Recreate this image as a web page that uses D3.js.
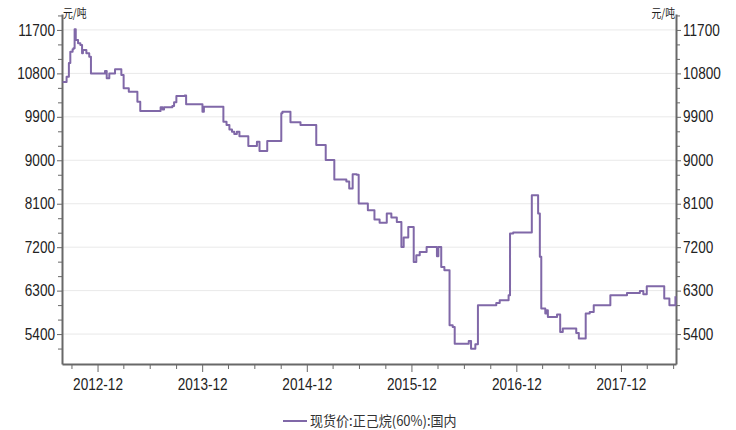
<!DOCTYPE html>
<html>
<head>
<meta charset="utf-8">
<script src="https://cdn.jsdelivr.net/npm/d3@7"></script>
<style>
  body { margin: 0; background: #fff; }
  svg { display: block; }
  .axis text { font-family: "Liberation Sans", Arial, sans-serif; font-size: 16px; fill: #222; }
  .axis path, .axis line { stroke: #686868; }
</style>
</head>
<body>
<svg id="chart" width="736" height="430"></svg>
<script>
// 现货价:正己烷(60%):国内, 元/吨
const dates = [
  "2012-08-01","2012-08-15","2012-08-23","2012-08-28","2012-09-05","2012-09-08","2012-09-12","2012-09-16",
  "2012-09-24","2012-10-02","2012-10-08","2012-10-11","2012-10-23","2012-11-02","2012-11-08","2012-12-24",
  "2012-12-27","2013-01-02","2013-01-11","2013-01-28","2013-01-31","2013-02-15","2013-02-22","2013-03-02",
  "2013-03-20","2013-04-19","2013-04-29","2013-07-05","2013-07-09","2013-07-16","2013-07-21","2013-08-19",
  "2013-08-25","2013-09-02","2013-10-01","2013-10-06","2013-11-29","2013-12-02","2013-12-07","2014-02-10",
  "2014-02-13","2014-02-24","2014-03-06","2014-03-15","2014-03-23","2014-04-01","2014-04-10","2014-05-09",
  "2014-05-11","2014-06-08","2014-06-10","2014-06-16","2014-06-19","2014-07-14","2014-07-16","2014-08-22",
  "2014-09-03","2014-09-07","2014-10-02","2014-10-05","2014-11-06","2014-11-09","2015-01-01","2015-01-03",
  "2015-02-02","2015-02-05","2015-02-25","2015-03-07","2015-04-11","2015-04-18","2015-04-28","2015-05-10",
  "2015-05-24","2015-05-31","2015-07-02","2015-07-25","2015-08-12","2015-09-01","2015-09-06","2015-09-22",
  "2015-10-11","2015-10-27","2015-11-04","2015-11-20","2015-11-25","2015-12-09","2015-12-18","2015-12-30",
  "2016-01-23","2016-02-22","2016-02-28","2016-03-04","2016-03-14","2016-03-25","2016-04-12","2016-04-23",
  "2016-04-30","2016-06-09","2016-06-18","2016-06-26","2016-07-11","2016-07-20","2016-09-17","2016-09-22",
  "2016-10-04","2016-10-30","2016-11-04","2016-11-09","2016-11-20","2017-01-15","2017-01-24","2017-02-08",
  "2017-02-15","2017-02-21","2017-02-26","2017-03-12","2017-03-17","2017-03-21","2017-04-19","2017-04-22",
  "2017-05-03","2017-05-12","2017-06-16","2017-06-28","2017-07-07","2017-07-21","2017-07-31","2017-08-14",
  "2017-08-28","2017-10-23","2017-10-25","2017-12-08","2017-12-22","2018-01-30","2018-02-05","2018-02-17",
  "2018-03-01","2018-04-26","2018-05-01","2018-05-19","2018-05-31","2018-06-09"
];
const prices = [
  10620,10730,11015,11250,11300,11320,11715,11490,
  11424,11390,11216,11285,11216,11147,10800,10800,
  10850,10700,10800,10800,10885,10885,10767,10490,
  10420,10213,10020,10020,10097,10050,10100,10124,
  10200,10331,10340,10160,10159,10006,10110,10110,
  9800,9730,9640,9590,9543,9590,9500,9500,
  9294,9294,9383,9383,9190,9190,9398,9398,
  9972,10006,10006,9787,9787,9730,9730,9315,
  9315,9004,9004,8604,8604,8560,8417,8713,
  8700,8105,7967,7774,7704,7704,7898,7815,
  7724,7206,7400,7620,7620,6895,7034,7102,
  7206,7206,7013,7206,6790,6722,5582,5547,
  5202,5202,5256,5098,5187,5997,5997,6044,
  6100,6100,6204,7484,7504,7504,8278,8278,
  7900,7000,5928,5824,5893,5754,5754,5804,
  5443,5513,5513,5422,5306,5306,5824,5858,
  5997,5997,6204,6204,6252,6252,6293,6225,
  6390,6390,6135,5997,5997,6183
];
const yMajor = [5400, 6300, 7200, 8100, 9000, 9900, 10800, 11700];
const yMinor = [5100, 5700, 6000, 6600, 6900, 7500, 7800, 8400, 8700, 9300, 9600, 10200, 10500, 11100, 11400, 12000];
const xMajor = ["2012-12", "2013-12", "2014-12", "2015-12", "2016-12", "2017-12"];
const xMinor = ["2012-09", "2013-03", "2013-06", "2013-09", "2014-03", "2014-06", "2014-09",
  "2015-03", "2015-06", "2015-09", "2016-03", "2016-06", "2016-09",
  "2017-03", "2017-06", "2017-09", "2018-03", "2018-06"];
const unitLabel = "元/吨";
const seriesName = "现货价:正己烷(60%):国内";

const parseDay = d3.timeParse("%Y-%m-%d");
const parseMonth = d3.timeParse("%Y-%m");
const fmtMonth = d3.timeFormat("%Y-%m");
const data = dates.map((d, i) => ({ date: parseDay(d), value: prices[i] }));

const svg = d3.select("#chart");
const plotL = 62, plotR = 676, plotT = 14, plotB = 364;

// squeeze text horizontally, the source uses a narrow face
function condense(sel, k) {
  sel.each(function() {
    const w = this.getComputedTextLength();
    d3.select(this).attr("textLength", w * k).attr("lengthAdjust", "spacingAndGlyphs");
  });
}

const x = d3.scaleTime()
  .domain([parseDay("2012-07-30"), parseDay("2018-06-11")])
  .range([plotL, plotR]);
const y = d3.scaleLinear().domain([4780, 12030]).range([plotB, plotT]);

// gridlines
svg.append("g").selectAll("line")
  .data(yMajor)
  .join("line")
  .attr("x1", plotL).attr("x2", plotR)
  .attr("y1", d => y(d)).attr("y2", d => y(d))
  .attr("stroke", "#e9e9e9").attr("stroke-width", 1);

// minor ticks
const minorG = svg.append("g").attr("stroke", "#686868");
minorG.selectAll(".ml").data(yMinor).join("line")
  .attr("x1", plotL - 4).attr("x2", plotL).attr("y1", d => y(d) + 0.5).attr("y2", d => y(d) + 0.5);
minorG.selectAll(".mr").data(yMinor).join("line")
  .attr("x1", plotR).attr("x2", plotR + 4).attr("y1", d => y(d) + 0.5).attr("y2", d => y(d) + 0.5);
minorG.selectAll(".mb").data(xMinor).join("line")
  .attr("x1", d => x(parseMonth(d)) + 0.5).attr("x2", d => x(parseMonth(d)) + 0.5)
  .attr("y1", plotB).attr("y2", plotB + 5);

// axes
svg.append("g").attr("class", "axis")
  .attr("transform", `translate(${plotL},0)`)
  .call(d3.axisLeft(y).tickValues(yMajor).tickSize(5).tickPadding(2).tickSizeOuter(0).tickFormat(d3.format("d")));
svg.append("g").attr("class", "axis")
  .attr("transform", `translate(${plotR},0)`)
  .call(d3.axisRight(y).tickValues(yMajor).tickSize(5).tickPadding(2).tickSizeOuter(0).tickFormat(d3.format("d")));
svg.append("g").attr("class", "axis")
  .attr("transform", `translate(0,${plotB})`)
  .call(d3.axisBottom(x).tickValues(xMajor.map(parseMonth)).tickSize(8).tickPadding(7).tickSizeOuter(0).tickFormat(fmtMonth));

svg.selectAll(".axis path").attr("stroke-width", 2);
condense(svg.selectAll(".axis text"), 0.85);

// unit labels
svg.append("text").attr("x", plotL + 1).attr("y", plotT + 4)
  .attr("font-family", "Noto Sans CJK SC, sans-serif").attr("font-size", 12).attr("fill", "#222")
  .text(unitLabel).call(condense, 0.82);
svg.append("text").attr("x", plotR - 1).attr("y", plotT + 4).attr("text-anchor", "end")
  .attr("font-family", "Noto Sans CJK SC, sans-serif").attr("font-size", 12).attr("fill", "#222")
  .text(unitLabel).call(condense, 0.82);

// line
const line = d3.line().curve(d3.curveStepAfter).x(d => x(d.date)).y(d => y(d.value));
svg.append("path").datum(data)
  .attr("d", line)
  .attr("fill", "none")
  .attr("stroke", "#8068a8")
  .attr("stroke-width", 2)
  .attr("stroke-linejoin", "round");

// legend
const lg = svg.append("g").attr("transform", "translate(283,421)");
lg.append("line").attr("x1", 0).attr("x2", 24).attr("y1", 0).attr("y2", 0)
  .attr("stroke", "#8068a8").attr("stroke-width", 2);
lg.append("text").attr("x", 27).attr("y", 5)
  .attr("font-family", "Noto Sans CJK SC, sans-serif").attr("font-size", 14).attr("fill", "#333")
  .text(seriesName).call(condense, 0.93);
</script>
</body>
</html>
